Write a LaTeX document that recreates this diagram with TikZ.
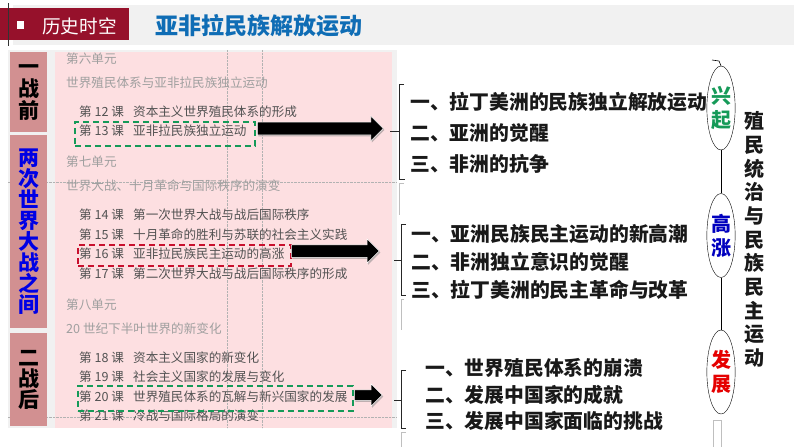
\documentclass[tikz,border=0pt]{standalone}
\usepackage{fontspec}
\setmainfont{Noto Sans CJK SC}
\usetikzlibrary{shapes,shapes.arrows,shapes.geometric,positioning,calc,shadows}
\definecolor{paneled}{HTML}{FDDFE1}
\definecolor{panelgray}{HTML}{F1F1F1}
\definecolor{sidered}{HTML}{D29091}
\definecolor{darkred}{HTML}{96112B}
\definecolor{titleblue}{HTML}{0F6DB5}
\definecolor{dashgreen}{HTML}{159A58}
\definecolor{dashred}{HTML}{C8102E}
\colorlet{unitgray}{gray!75}
\newcommand{\fs}[1]{\fontsize{#1}{#1}\selectfont}

\begin{document}
\begin{tikzpicture}
  [x=1pt,y=-1pt,
  side/.style={fill=sidered,anchor=north west,inner sep=0pt,minimum width=37pt},
  sidetext/.style={align=center,font=\fs{21}\bfseries,inner sep=0pt},
  unit/.style={anchor=west,inner sep=0pt,text=unitgray,font=\fs{12.6}},
  lesson/.style={anchor=west,inner sep=0pt,text=black!68,font=\fs{12.6}},
  pick/.style={draw=#1,dashed,line width=1.5pt,dash pattern=on 6pt off 4pt,anchor=north west,inner sep=0pt},
  bigarrow/.style={single arrow,fill=black,draw=white,line width=0.5pt,anchor=tail,inner xsep=0pt,inner ysep=#1,
    single arrow head extend=6pt,drop shadow={opacity=0.5,shadow xshift=1pt,shadow yshift=-1.5pt}},
  item/.style={anchor=west,inner sep=0pt,font=\fs{19.8}\bfseries,text=black!90},
  stage/.style={ellipse,draw,fill=white,inner sep=0pt,minimum width=23pt,minimum height=84pt,align=center,font=\fs{20}\bfseries},
  brace/.style={draw=black!85,line width=0.7pt},
  ghost/.style={draw=black!25,line width=1pt},
  grid/.style={draw=black!30,densely dotted,line width=0.4pt}
  ]
  \useasboundingbox (0,0) rectangle (794,447);

  % title band
  \fill[panelgray] (13,5) rectangle (794,45);
  \fill[darkred] (0,8) rectangle (129,40);
  \draw[black!80,line width=0.6pt] (8,3) -- (8,46);
  \fill[white] (17,21) rectangle (24,29);
  \node[anchor=west,inner sep=0pt,text=white,font=\fs{18.6}] (zone) at (42,26) {历史时空};
  \node[anchor=west,inner sep=0pt,text=titleblue,font=\fs{23}\bfseries] (headline) at (155,26) {亚非拉民族解放运动};

  % textbook page
  \fill[panelgray] (8,50) rectangle (397,428);
  \fill[paneled] (55,52) rectangle (392,428);
  \draw[grid] (227,50) -- (227,428);
  \draw[grid] (262,50) -- (262,428);
  \draw[grid] (8,182) -- (397,182);
  \draw[grid] (8,417) -- (397,417);

  \node[side,minimum height=80pt] (before) at (10,52) {};
  \node[side,minimum height=193pt] (between) at (10,135) {};
  \node[side,minimum height=93pt] (after) at (10,333) {};
  \node[sidetext] (beforetext) at (before.center) {一\\[1pt]战\\[1pt]前};
  \node[sidetext,text=blue!90!black] (betweentext) at (between.center) {两\\次\\世\\界\\大\\战\\之\\间};
  \node[sidetext] (aftertext) at (after.center) {二\\战\\后};

  \foreach \name/\y/\txt in {
    u6/59/第六单元,
    u6t/83/世界殖民体系与亚非拉民族独立运动,
    u7/162/第七单元,
    u7t/186/世界大战、十月革命与国际秩序的演变,
    u8/305/第八单元,
    u8t/329/20 世纪下半叶世界的新变化}
    \node[unit] (\name) at (66,\y) {\txt};

  \foreach \num/\y/\txt in {
    12/112/资本主义世界殖民体系的形成,
    13/131/亚非拉民族独立运动,
    14/215/第一次世界大战与战后国际秩序,
    15/235/十月革命的胜利与苏联的社会主义实践,
    16/254/亚非拉民族民主运动的高涨,
    17/274/第二次世界大战与战后国际秩序的形成,
    18/358/资本主义国家的新变化,
    19/377/社会主义国家的发展与变化,
    20/397/世界殖民体系的瓦解与新兴国家的发展,
    21/416/冷战与国际格局的演变}
    \node[lesson] (les\num) at (79,\y) {\makebox[54pt][l]{第 \num{} 课}\txt};

  \node[pick=dashgreen,minimum width=180pt,minimum height=24pt] (pick13) at (74,121) {};
  \node[pick=dashred,minimum width=213pt,minimum height=21pt] (pick16) at (77,244) {};
  \node[pick=dashgreen,minimum width=275pt,minimum height=25pt] (pick20) at (77,385) {};

  \node[bigarrow=6pt,minimum width=25pt,minimum height=126pt] (arrow13) at (257,128.5) {};
  \node[bigarrow=6pt,minimum width=24pt,minimum height=88pt] (arrow16) at (291,251) {};
  \node[bigarrow=5pt,minimum width=19pt,minimum height=28pt] (arrow20) at (354,395) {};

  % brackets
  \draw[brace] (404,84) -- (399,84) -- (399,179) -- (405,179);
  \draw[brace] (390,131) -- (399,131);
  \draw[brace] (406,224) -- (401,224) -- (401,295) -- (406,295);
  \draw[brace] (394,260) -- (401,260);
  \draw[brace] (406,370) -- (401,370) -- (401,428) -- (406,428);
  \draw[brace] (394,400) -- (401,400);
  \draw[ghost] (404,183) -- (399,183) -- (399,215);
  \draw[ghost] (404,299) -- (401,299) -- (401,330);
  \draw[ghost] (406,432) -- (401,432) -- (401,447);
  \draw[ghost] (721,420) -- (713,420) -- (713,447);
  \draw[ghost] (721,420) -- (721,447);

  % lists
  \node[item] (a1) at (410,102) {一、拉丁美洲的民族独立解放运动};
  \node[item,below=31pt of a1.west,anchor=west] (a2) {二、亚洲的觉醒};
  \node[item,below=31pt of a2.west,anchor=west] (a3) {三、非洲的抗争};
  \node[item] (b1) at (411,234) {一、亚洲民族民主运动的新高潮};
  \node[item,below=28pt of b1.west,anchor=west] (b2) {二、非洲独立意识的觉醒};
  \node[item,below=28pt of b2.west,anchor=west] (b3) {三、拉丁美洲的民主革命与改革};
  \node[item] (c1) at (425,368) {一、世界殖民体系的崩溃};
  \node[item,below=26.5pt of c1.west,anchor=west] (c2) {二、发展中国家的成就};
  \node[item,below=26.5pt of c2.west,anchor=west] (c3) {三、发展中国家面临的挑战};

  % stages
  \node[stage,text=dashgreen] (rise) at (721,108) {兴\\[4pt]起};
  \node[stage,text=blue!75!black] (peak) at (721,235.5) {高\\[4pt]涨};
  \node[stage,text=red!90!black] (grow) at (721,372) {发\\[4pt]展};
  \coordinate (risetop) at (712,60);
  \draw (rise) -- (peak);
  \draw (peak) -- (grow);
  \draw[line width=0.6pt] (risetop) -- (719,61) -- (rise.north);

  \node[inner sep=0pt,align=center,font=\fs{20}\bfseries,text=black!90] (theme) at (754,239.5)
    {殖\\[3.7pt]民\\[3.7pt]统\\[3.7pt]治\\[3.7pt]与\\[3.7pt]民\\[3.7pt]族\\[3.7pt]民\\[3.7pt]主\\[3.7pt]运\\[3.7pt]动};
\end{tikzpicture}
\end{document}
